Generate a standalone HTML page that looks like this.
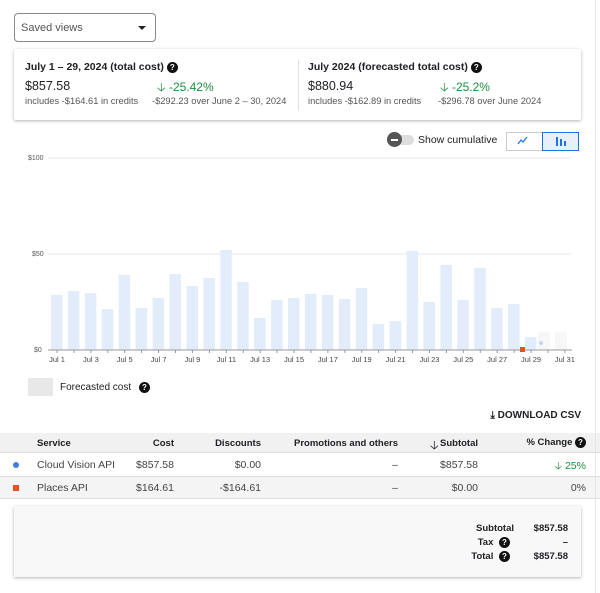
<!DOCTYPE html>
<html><head><style>
*{margin:0;padding:0;box-sizing:border-box}
body{width:600px;height:593px;background:#fff;font-family:"Liberation Sans",sans-serif;color:#202124;position:relative;overflow:hidden}
.a{position:absolute;white-space:nowrap}
.q{display:inline-block;width:11px;height:11px;border-radius:50%;background:#111;color:#fff;font-size:8px;font-weight:bold;text-align:center;line-height:11px;vertical-align:middle}
.s{font-size:9.3px;color:#555}
.g{color:#1e8e3e}
</style></head><body>
<div class="a" style="left:14px;top:13px;width:142px;height:29px;border:1px solid #888;border-radius:4px"></div>
<div class="a" style="left:21px;top:22px;font-size:11px;color:#555">Saved views</div>
<div class="a" style="left:138px;top:26px;width:0;height:0;border-left:4px solid transparent;border-right:4px solid transparent;border-top:4px solid #222"></div>

<div class="a" style="left:14px;top:49px;width:567px;height:71px;box-shadow:0 1px 3px rgba(0,0,0,.3);border-radius:2px"></div>
<div class="a" style="left:298px;top:60px;width:1px;height:50px;background:#e0e0e0"></div>
<div class="a" style="left:25px;top:61px;font-size:10.5px;font-weight:bold">July 1 – 29, 2024 (total cost) <span class="q">?</span></div>
<div class="a" style="left:25px;top:79px;font-size:12.5px">$857.58</div>
<div class="a g" style="left:157px;top:78px;font-size:12px">🡣 -25.42%</div>
<div class="a s" style="left:25px;top:96px">includes -$164.61 in credits</div>
<div class="a s" style="left:152px;top:96px">-$292.23 over June 2 – 30, 2024</div>
<div class="a" style="left:308px;top:61px;font-size:10.5px;font-weight:bold">July 2024 (forecasted total cost) <span class="q">?</span></div>
<div class="a" style="left:308px;top:79px;font-size:12.5px">$880.94</div>
<div class="a g" style="left:440px;top:78px;font-size:12px">🡣 -25.2%</div>
<div class="a s" style="left:308px;top:96px">includes -$162.89 in credits</div>
<div class="a s" style="left:438px;top:96px">-$296.78 over June 2024</div>

<div class="a" style="left:392px;top:135px;width:22px;height:10px;border-radius:5px;background:#ddd"></div>
<div class="a" style="left:387px;top:132px;width:15px;height:15px;border-radius:50%;background:#555"></div>
<div class="a" style="left:391px;top:139px;width:7px;height:1.5px;background:#fff"></div>
<div class="a" style="left:418px;top:134px;font-size:10.5px">Show cumulative</div>
<div class="a" style="left:506px;top:132px;width:73px;height:19px;border:1px solid #ccc"></div>
<div class="a" style="left:542px;top:132px;width:37px;height:19px;border:1px solid #1a73e8;background:#e8f0fe"></div>
<svg class="a" style="left:517px;top:136px" width="12" height="10"><polyline points="1,8 4,4 6,6 10,1" fill="none" stroke="#1a73e8" stroke-width="1.2"/></svg>
<div class="a" style="left:556px;top:137px;width:2px;height:9px;background:#1a73e8"></div>
<div class="a" style="left:560px;top:139px;width:2px;height:7px;background:#1a73e8"></div>
<div class="a" style="left:564px;top:141px;width:2px;height:5px;background:#1a73e8"></div>

<svg class="a" style="left:0;top:150px" width="600" height="220" viewBox="0 150 600 220">
<g font-family="Liberation Sans" font-size="7" fill="#555">
<text x="28" y="160">$100</text><text x="32" y="256">$50</text><text x="34" y="352">$0</text>
</g>
<line x1="48" y1="158" x2="572" y2="158" stroke="#e8e8e8"/>
<line x1="48" y1="254" x2="572" y2="254" stroke="#e8e8e8"/>
<g id="bars" fill="#e3ecfb"></g>
<rect x="538" y="332" width="12" height="18" fill="#f7f7f7"/>
<rect x="555" y="332" width="12" height="18" fill="#f7f7f7"/>
<circle cx="541" cy="343" r="2" fill="#c5d6f5"/>
<line x1="48" y1="350" x2="572" y2="350" stroke="#999"/>
<rect x="520" y="347" width="5" height="5" fill="#e8501e"/>
<g id="lab" font-family="Liberation Sans" font-size="7.5" fill="#444" text-anchor="middle"></g>
</svg>
<script>
var t=[295,291,293,309,275,308,298,274,286,278,250,282,318,300,298,294,295,299,288,324,321,251,302,265,300,268,308,304,337];
var b='',l='';
for(var i=0;i<29;i++){var x=57+i*16.93;b+='<rect x="'+(x-6)+'" y="'+t[i]+'" width="11.5" height="'+(350-t[i])+'"/>';}
for(var i=0;i<31;i++){var x=57+i*16.93;l+='<line x1="'+x+'" y1="350" x2="'+x+'" y2="353" stroke="#999"/>';if(i%2==0)l+='<text x="'+x+'" y="362">Jul '+(i+1)+'</text>';}
document.getElementById('bars').innerHTML=b;document.getElementById('lab').innerHTML=l;
</script>

<div class="a" style="left:28px;top:378px;width:25px;height:18px;background:#e8e8e8"></div>
<div class="a" style="left:60px;top:382px;font-size:10px">Forecasted cost <span class="q" style="margin-left:5px">?</span></div>

<div class="a" style="right:19px;top:410px;font-size:10px;font-weight:bold">⤓ DOWNLOAD CSV</div>

<div class="a" style="left:0;top:433px;width:600px;height:20px;background:#f1f1f1;border-bottom:1px solid #ddd"></div>
<div class="a" style="left:0;top:476px;width:600px;height:23px;background:#f4f4f4;border-top:1px solid #ddd;border-bottom:1px solid #ddd"></div>
<div style="font-size:9.5px">
<div class="a" style="left:37px;top:438px;font-weight:bold">Service</div>
<div class="a" style="right:426px;top:438px;font-weight:bold">Cost</div>
<div class="a" style="right:339px;top:438px;font-weight:bold">Discounts</div>
<div class="a" style="right:202px;top:438px;font-weight:bold">Promotions and others</div>
<div class="a" style="left:430px;top:436px;font-size:12px">🡣</div>
<div class="a" style="right:122px;top:438px;font-weight:bold">Subtotal</div>
<div class="a" style="right:14px;top:437px;font-weight:bold">% Change <span class="q">?</span></div>
</div>
<div style="font-size:10.5px;color:#444">
<div class="a" style="left:13px;top:462px;width:6px;height:6px;border-radius:50%;background:#4a7be0"></div>
<div class="a" style="left:37px;top:459px">Cloud Vision API</div>
<div class="a" style="right:426px;top:459px">$857.58</div>
<div class="a" style="right:339px;top:459px">$0.00</div>
<div class="a" style="right:202px;top:459px">–</div>
<div class="a" style="right:122px;top:459px">$857.58</div>
<div class="a g" style="right:14px;top:458px">🡣 25%</div>
<div class="a" style="left:13px;top:485px;width:6px;height:6px;background:#e8501e"></div>
<div class="a" style="left:37px;top:482px">Places API</div>
<div class="a" style="right:426px;top:482px">$164.61</div>
<div class="a" style="right:339px;top:482px">-$164.61</div>
<div class="a" style="right:202px;top:482px">–</div>
<div class="a" style="right:122px;top:482px">$0.00</div>
<div class="a" style="right:14px;top:482px">0%</div>
</div>

<div class="a" style="left:14px;top:506px;width:567px;height:71px;background:#f8f8f8;box-shadow:0 1px 3px rgba(0,0,0,.3)"></div>
<div style="font-size:9.5px;font-weight:bold">
<div class="a" style="right:86px;top:523px">Subtotal</div>
<div class="a" style="right:32px;top:523px">$857.58</div>
<div class="a" style="right:90px;top:537px">Tax <span class="q" style="margin-left:3px">?</span></div>
<div class="a" style="right:32px;top:537px">–</div>
<div class="a" style="right:90px;top:551px">Total <span class="q" style="margin-left:3px">?</span></div>
<div class="a" style="right:32px;top:551px">$857.58</div>
</div>
<div class="a" style="left:595px;top:0;width:1px;height:593px;background:#e6e6e6"></div>
</body></html>
